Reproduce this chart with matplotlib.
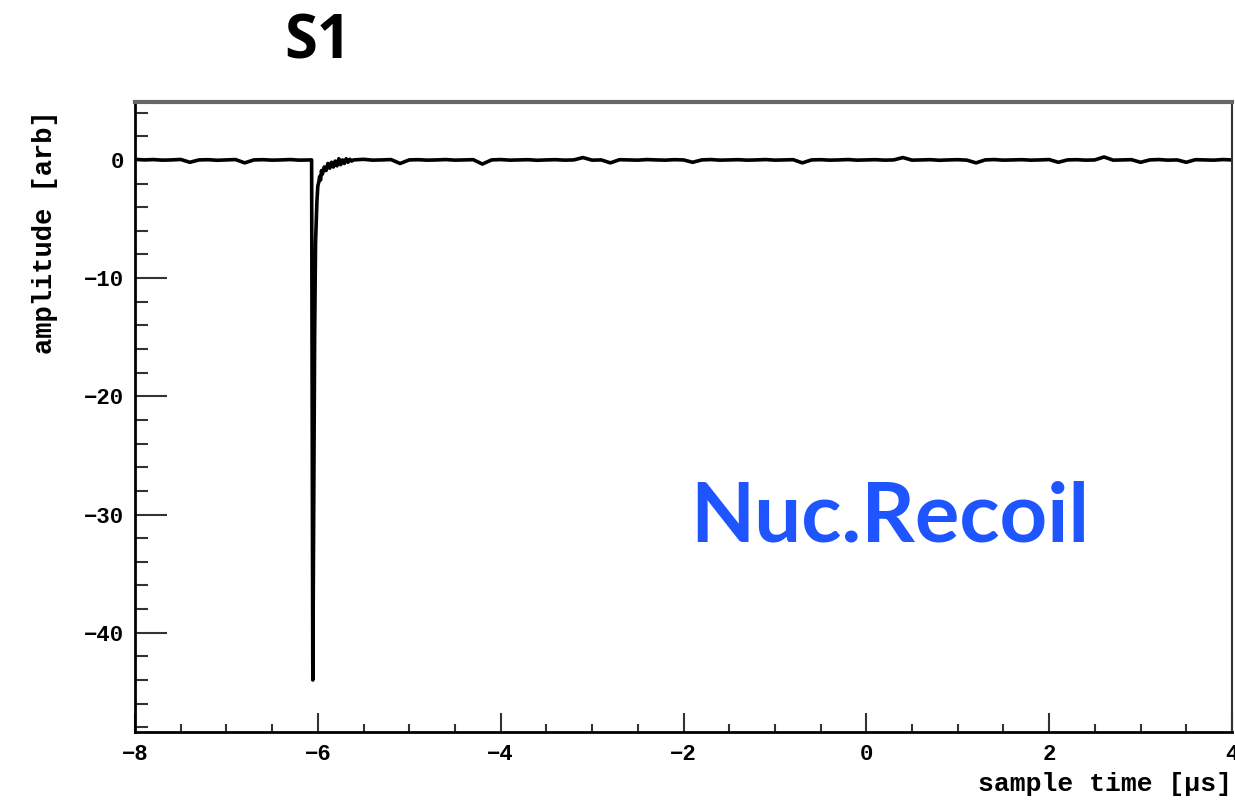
import matplotlib
matplotlib.use("Agg")
import matplotlib.pyplot as plt
import numpy as np
from matplotlib.ticker import MultipleLocator

# baseline before the pulse, sampled every 0.1 us from -8.0 to -6.1
pre_amp = [0.05, 0.0, 0.03, -0.02, 0.0, 0.04, -0.2, 0.0, 0.02, -0.03,
           0.0, 0.03, -0.25, 0.0, 0.02, -0.02, 0.0, 0.03, -0.02, 0.0]

# the S1 pulse and its ringing tail
pulse_t = [-6.068, -6.062, -6.055, -6.045, -6.035, -6.025, -6.01,
           -6.0, -5.99, -5.98, -5.97, -5.96, -5.95, -5.93, -5.91, -5.89,
           -5.87, -5.85, -5.83, -5.81, -5.79, -5.77, -5.75, -5.73, -5.71,
           -5.69, -5.67, -5.65, -5.63, -5.61]
pulse_amp = [0.0, -20.0, -44.0, -30.0, -15.0, -7.0, -3.5,
             -2.2, -1.9, -1.4, -1.7, -0.9, -1.2, -0.6, -0.9, -0.3,
             -0.7, -0.2, -0.6, -0.1, -0.5, 0.1, -0.4, 0.0, -0.3,
             0.1, -0.2, 0.05, -0.1, 0.0]

# baseline after the pulse, sampled every 0.1 us from -5.5 to 4.0
post_amp = [0.05, -0.02, 0.0, 0.03, -0.3, 0.0, 0.02, -0.02, 0.0, 0.03,
            -0.02, 0.0, 0.02, -0.35, 0.0, 0.03, -0.02, 0.0, 0.02, -0.03,
            0.0, 0.02, -0.02, 0.0, 0.2, -0.02, 0.0, -0.25, 0.02, 0.0,
            -0.02, 0.03, 0.0, -0.02, 0.02, 0.0, -0.2, 0.0, 0.03, -0.02,
            0.0, 0.02, -0.02, 0.0, 0.03, -0.02, 0.0, 0.02, -0.25, 0.0,
            0.02, -0.02, 0.0, 0.03, -0.02, 0.0, 0.02, -0.02, 0.0, 0.2,
            -0.02, 0.0, 0.02, -0.03, 0.0, 0.02, -0.02, -0.25, 0.0, 0.03,
            -0.02, 0.0, 0.02, -0.02, 0.0, 0.03, -0.2, 0.0, 0.02, -0.02,
            0.0, 0.25, -0.02, 0.0, 0.02, -0.2, 0.0, 0.03, -0.02, 0.0,
            -0.2, 0.02, 0.0, -0.02, 0.03, 0.0]

t = np.concatenate([np.linspace(-8.0, -6.1, len(pre_amp)),
                    pulse_t,
                    np.linspace(-5.5, 4.0, len(post_amp))])
amp = np.concatenate([pre_amp, pulse_amp, post_amp])

mono = "Liberation Mono"

fig = plt.figure(figsize=(12.35, 8.02), dpi=100)
ax = fig.add_axes([135 / 1235, 70 / 802, 1097 / 1235, 630 / 802])
ax.plot(t, amp, color="black", lw=2.6)

ax.set_xlim(-8, 4)
ax.set_ylim(-48.4, 4.9)

ax.xaxis.set_major_locator(MultipleLocator(2))
ax.xaxis.set_minor_locator(MultipleLocator(0.5))
ax.yaxis.set_major_locator(MultipleLocator(10))
ax.yaxis.set_minor_locator(MultipleLocator(2))
ax.tick_params(axis="both", which="both", direction="in", color="#333333",
               width=1.5, top=False, right=False)
ax.tick_params(axis="y", which="major", length=23, pad=8)
ax.tick_params(axis="y", which="minor", length=9)
ax.tick_params(axis="x", which="major", length=14, pad=9)
ax.tick_params(axis="x", which="minor", length=6)

for lab in ax.get_xticklabels() + ax.get_yticklabels():
    lab.set_fontfamily(mono)
    lab.set_fontweight("bold")
    lab.set_fontsize(16)

for side in ["left", "bottom"]:
    ax.spines[side].set_linewidth(2.0)
    ax.spines[side].set_color("black")
ax.spines["top"].set_linewidth(3.0)
ax.spines["top"].set_color("#666666")
ax.spines["right"].set_linewidth(1.5)
ax.spines["right"].set_color("#333333")

fig.text(45 / 1235, 1 - 110 / 802, "amplitude [arb]", rotation=90,
         ha="center", va="top", family=mono, fontweight="bold", fontsize=19.5)
fig.text(1232 / 1235, 1 - 784 / 802, "sample time [\u00b5s]", ha="right",
         va="center", family=mono, fontweight="bold", fontsize=19)

fig.text(318 / 1235, 1 - 43 / 802, "S1", ha="center", va="center",
         family="Open Sans", fontweight="bold", fontsize=43)
ax.text(890 / 1235, 1 - 518 / 802, "Nuc.Recoil", transform=fig.transFigure,
        ha="center", va="center", family="Lato", fontweight="bold",
        fontsize=60, color="#1f55ff")

fig.savefig("out.png", dpi=100)
